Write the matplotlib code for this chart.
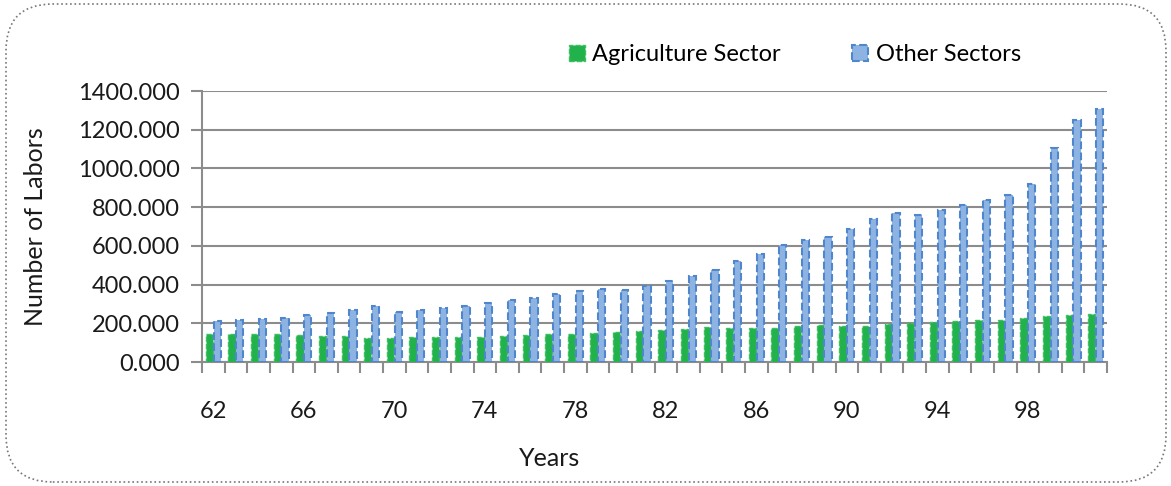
import matplotlib.pyplot as plt
import numpy as np
from matplotlib.patches import FancyBboxPatch

plt.rcParams["font.family"] = ["Lato", "DejaVu Sans"]

years = list(range(62, 102))
agriculture = [146, 146, 146, 143, 141, 136, 136, 126, 126, 128,
               131, 131, 131, 134, 139, 145, 145, 150, 153, 160,
               165, 170, 182, 176, 176, 178, 185, 190, 184, 187,
               196, 199, 205, 213, 218, 218, 225, 239, 244, 249]
other = [212, 217, 222, 229, 241, 255, 269, 289, 260, 269,
         281, 289, 306, 318, 329, 351, 368, 375, 372, 393,
         418, 442, 477, 520, 556, 606, 632, 646, 689, 737,
         770, 759, 783, 809, 837, 864, 922, 1107, 1251, 1309]
tick_years = [62, 66, 70, 74, 78, 82, 86, 90, 94, 98]

fig = plt.figure(figsize=(11.71, 4.86), dpi=100)
ax = fig.add_axes([202 / 1171, 1 - 362 / 486, 905 / 1171, 271 / 486])

x = np.arange(len(years))
w = 0.32
ax.bar(x - 0.17, agriculture, w, color="#22b24c", edgecolor="#3dbf62",
       linestyle="--", linewidth=1.0, label="Agriculture Sector", zorder=3)
ax.bar(x + 0.17, other, w, color="#8db3e2", edgecolor="#4f86cc",
       linestyle="--", linewidth=1.5, label="Other Sectors", zorder=3)

ax.set_xlim(-0.5, len(years) - 0.5)
ax.set_ylim(0, 1400)
ax.set_yticks(range(0, 1401, 200))
ax.set_yticklabels([f"{v}.000" for v in range(0, 1401, 200)], fontsize=17, color="#1a1a1a")
ax.yaxis.grid(True, color="#8c8c8c", linewidth=1.5, zorder=0)
ax.tick_params(axis="y", length=8, width=1.5, color="#8c8c8c", pad=8)

ax.set_xticks(np.arange(-0.5, len(years), 1.0))
ax.set_xticklabels([])
ax.tick_params(axis="x", length=8, width=1.5, color="#8c8c8c")
ax.set_xticks([years.index(t) for t in tick_years], minor=True)
ax.set_xticklabels([str(t) for t in tick_years], minor=True, fontsize=17, color="#1a1a1a")
ax.tick_params(axis="x", which="minor", length=0, pad=28)

for side in ["top", "right"]:
    ax.spines[side].set_visible(False)
ax.spines["left"].set_color("#8c8c8c")
ax.spines["left"].set_linewidth(1.5)
ax.spines["bottom"].set_color("#8c8c8c")
ax.spines["bottom"].set_linewidth(1.5)

ax.set_ylabel("Number of Labors", fontsize=18, color="#1a1a1a", labelpad=22)
ax.set_xlabel("Years", fontsize=18, color="#1a1a1a", labelpad=18)
ax.xaxis.label.set_x((550 - 202) / 905)

ax.legend(loc="lower center", bbox_to_anchor=(0.655, 1.06), ncol=2, frameon=False,
          fontsize=17, handlelength=0.7, handleheight=0.7, handletextpad=0.3,
          columnspacing=3.0, borderaxespad=0)

border = FancyBboxPatch((6 / 1171, 4 / 486), 1160 / 1171, 478 / 486,
                        boxstyle="round,pad=0,rounding_size=0.04",
                        transform=fig.transFigure, facecolor="none",
                        edgecolor="#777777", linestyle=":", linewidth=1.2,
                        mutation_aspect=1171 / 486)
fig.patches.append(border)

fig.savefig("out.png", dpi=100)
